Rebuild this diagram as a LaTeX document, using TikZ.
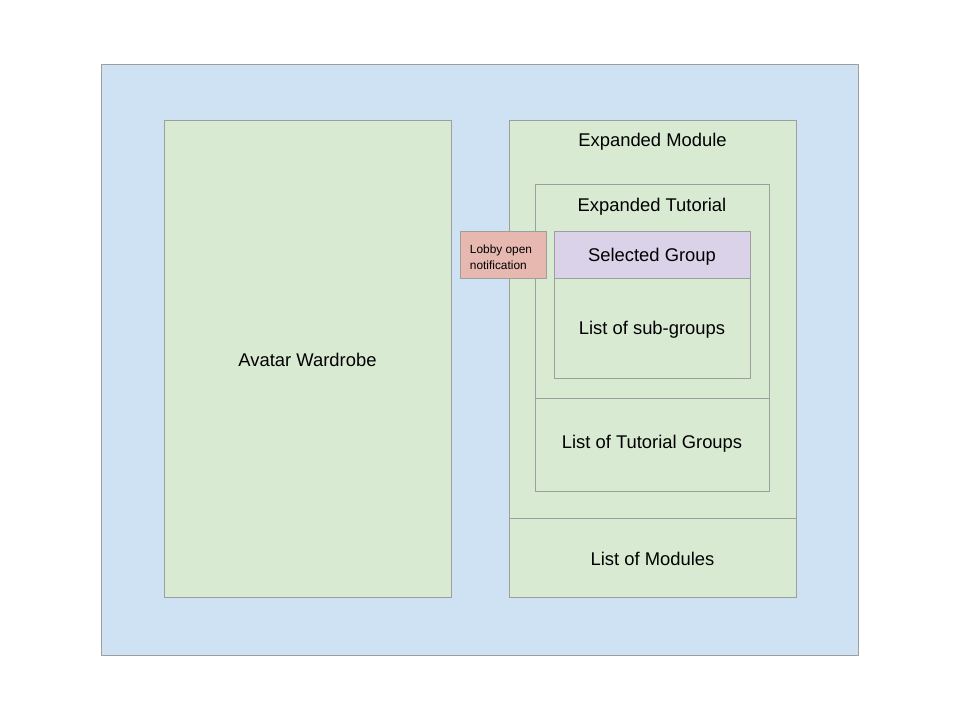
\documentclass[tikz,border=0pt]{standalone}
\usepackage{fontspec}
\setmainfont{Liberation Sans}
\definecolor{bluefill}{HTML}{CFE2F3}
\definecolor{greenfill}{HTML}{D9EAD3}
\definecolor{purplefill}{HTML}{D9D2E9}
\definecolor{redfill}{HTML}{E6B8AF}
\definecolor{edgegrey}{HTML}{9E9E9E}
\begin{document}
\begin{tikzpicture}[x=0.75pt,y=-0.75pt,
  box/.style={draw=edgegrey,line width=0.75pt,inner sep=0pt,outer sep=0pt,
    font=\fontsize{13.8pt}{16pt}\selectfont,text=black},
  gbox/.style={box,fill=greenfill},
  lbl/.style={inner sep=0pt,font=\fontsize{13.8pt}{16pt}\selectfont,text=black}]
\useasboundingbox (0,0) rectangle (960,720);
\node[box,fill=bluefill,minimum width=567.75pt,minimum height=442.5pt] (outer) at (479.5,360) {};
\node[gbox,minimum width=215.25pt,minimum height=357pt] (avatar) at (307.5,359) {};
\node[lbl] (avatarl) at (307.5,360) {Avatar Wardrobe};
\node[gbox,minimum width=215.25pt,minimum height=297.75pt] (expmod) at (652.5,319.5) {};
\node[lbl] (expmodl) at (652.5,142) {Expanded Module};
\node[gbox,minimum width=215.25pt,minimum height=59.25pt] (listmod) at (652.5,557.5) {};
\node[lbl] (listmodl) at (652.5,559) {List of Modules};
\node[gbox,minimum width=175.5pt,minimum height=159.75pt] (exptut) at (652,291.5) {};
\node[lbl] (exptutl) at (652,207) {Expanded Tutorial};
\node[gbox,minimum width=175.5pt,minimum height=69.75pt] (listtut) at (652,444.5) {};
\node[lbl] (listtutl) at (652,444) {List of Tutorial Groups};
\node[box,fill=purplefill,minimum width=147pt,minimum height=35.25pt] (sel) at (652,255.5) {};
\node[lbl] (sell) at (652,257) {Selected Group};
\node[gbox,minimum width=147pt,minimum height=74.25pt] (sub) at (652,328.5) {};
\node[lbl] (subl) at (652,330) {List of sub-groups};
\node[box,fill=redfill,minimum width=64.5pt,minimum height=35.25pt] (lobby) at (503,255.5) {};
\node[inner sep=0pt,align=left,text=black,font=\fontsize{8.9pt}{12pt}\selectfont] (lobbyl) at (501,257) {Lobby open\\notification};
\end{tikzpicture}
\end{document}
